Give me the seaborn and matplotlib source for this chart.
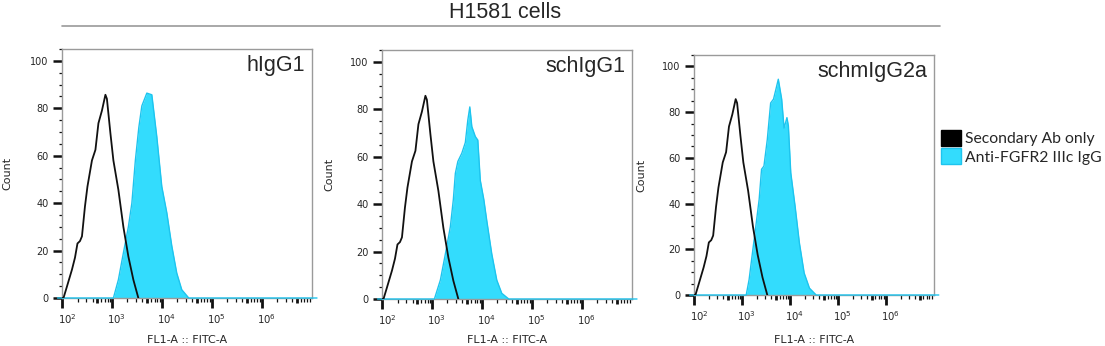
import numpy as np
import matplotlib
matplotlib.use("Agg")
import matplotlib.pyplot as plt
import matplotlib.transforms as mtransforms
from matplotlib.lines import Line2D
from matplotlib.patches import Patch
from matplotlib.ticker import FixedLocator, NullFormatter
import seaborn as sns

# ---------------- data (log10 FL1-A intensity, count) ----------------
title = "H1581 cells"
panel_names = ["hIgG1", "schIgG1", "schmIgG2a"]
legend_labels = ["Secondary Ab only", "Anti-FGFR2 IIIc IgG"]
decade_ticks = [2, 3, 4, 5, 6]

secondary_logx = [1.90, 2.02, 2.09, 2.19, 2.25, 2.30, 2.35, 2.39, 2.45, 2.50, 2.59, 2.66,
                  2.72, 2.79, 2.86, 2.89, 2.96, 3.02, 3.12, 3.22, 3.32, 3.42, 3.52]
secondary_count = [0, 0, 4.9, 12, 17, 23, 24, 26, 38.6, 47, 58, 62.5,
                   73.7, 79, 85.7, 84, 69.5, 58, 45.6, 30, 17.5, 7.7, 0]

hig_logx = [1.90, 3.02, 3.12, 3.22, 3.32, 3.39, 3.46, 3.53, 3.59, 3.69, 3.79, 3.89,
            3.99, 4.09, 4.19, 4.29, 4.39, 4.53, 7.10]
hig_count = [0, 0, 7.7, 19, 30, 40, 58, 72, 81, 86.4, 85.7, 68,
             47, 36, 22, 10.5, 3.5, 0, 0]

sch_logx = [1.90, 3.04, 3.16, 3.26, 3.36, 3.42, 3.46, 3.51, 3.59, 3.66, 3.71, 3.75,
            3.79, 3.86, 3.91, 3.96, 4.03, 4.09, 4.19, 4.29, 4.39, 4.53, 7.10]
sch_count = [0, 0, 8, 19, 30.5, 42, 53, 58, 61.5, 66, 75.5, 81,
             72.7, 68.5, 67, 50, 42, 33, 19, 8, 2.4, 0, 0]

schm_logx = [1.90, 3.08, 3.14, 3.21, 3.28, 3.35, 3.40, 3.45, 3.52, 3.59, 3.65, 3.70,
             3.75, 3.82, 3.87, 3.93, 3.96, 4.01, 4.10, 4.19, 4.29, 4.40, 4.54, 7.10]
schm_count = [0, 0, 6.7, 18.4, 30, 41.8, 55, 56.4, 68, 84, 85.7, 90,
              94.4, 85.7, 73, 77.6, 74, 53.5, 38.9, 22.8, 9.6, 3, 0, 0]

anti_series = [(hig_logx, hig_count), (sch_logx, sch_count), (schm_logx, schm_count)]

# ---------------- style ----------------
sns.set_style("ticks")
plt.rcParams["font.family"] = ["DejaVu Sans"]

BLACK = "#111111"
CYAN_FACE = "#33dcfd"
CYAN_EDGE = "#1ec4ee"
SPINE = "#9a9a9a"

W, H = 1105, 346
fig = plt.figure(figsize=(W / 100, H / 100), dpi=100)

# axes boxes in pixels: left, right, top, bottom(zero line)
boxes = [(62, 312, 49, 298), (382, 632, 50, 299), (694, 934, 55, 295)]
ylabel_gap = [50, 48, 48]
XMIN, XMAX = 10 ** 1.99, 10 ** 7.0

for i, ((l, r, t, b), name, (ax_x, ax_y)) in enumerate(zip(boxes, panel_names, anti_series)):
    ax = fig.add_axes([l / W, 1 - b / H, (r - l) / W, (b - t) / H])
    xs = 10 ** np.array(secondary_logx)
    ys = np.array(secondary_count)
    xa = 10 ** np.array(ax_x)
    ya = np.array(ax_y)
    ax.fill_between(xa, 0, ya, color=CYAN_FACE, lw=0, zorder=2)
    sns.lineplot(x=xa, y=ya, ax=ax, color=CYAN_EDGE, lw=1.0, zorder=3,
                 estimator=None, sort=False, clip_on=False)
    sns.lineplot(x=xs, y=ys, ax=ax, color=BLACK, lw=1.3, zorder=4,
                 estimator=None, sort=False)

    ax.set_xscale("log")
    ax.set_xlim(XMIN, XMAX)
    ax.set_ylim(0, 105)

    # x ticks
    ax.xaxis.set_major_locator(FixedLocator([10.0 ** d for d in decade_ticks]))
    ax.set_xticklabels([f"$10^{{{d}}}$" for d in decade_ticks])
    minor = [s * 10.0 ** d for d in range(1, 7) for s in [2, 3, 4, 6, 7, 8, 9]]
    ax.xaxis.set_minor_locator(FixedLocator(minor))
    ax.xaxis.set_minor_formatter(NullFormatter())
    ax.tick_params(axis="x", which="major", length=7, width=2.0, color=BLACK,
                   labelsize=7.3, pad=3, direction="out")
    ax.tick_params(axis="x", which="minor", length=3, width=0.9, color=BLACK, direction="out")
    offset = mtransforms.ScaledTranslation(4.5 / 100, 0, fig.dpi_scale_trans)
    for lab in ax.get_xticklabels():
        lab.set_transform(lab.get_transform() + offset)

    # medium ticks at 5 x 10^n
    trans = mtransforms.blended_transform_factory(ax.transData, ax.transAxes)
    for d in range(1, 7):
        x5 = 5 * 10.0 ** d
        if XMIN < x5 < XMAX:
            ax.add_line(Line2D([x5, x5], [0, -4.5 / (b - t)], transform=trans,
                               color=BLACK, lw=2.0, clip_on=False, solid_capstyle="butt"))

    # y ticks
    ax.yaxis.set_major_locator(FixedLocator([0, 20, 40, 60, 80, 100]))
    ax.yaxis.set_minor_locator(FixedLocator([v for v in range(0, 106, 5) if v % 20]))
    ax.tick_params(axis="y", which="major", length=6.5, width=1.8, color=BLACK,
                   labelsize=7, pad=3)
    ax.tick_params(axis="y", which="minor", length=2.5, width=0.9, color=BLACK)

    for sp in ax.spines.values():
        sp.set_color(SPINE)
        sp.set_linewidth(1.0)

    ax.set_xlabel("FL1-A :: FITC-A", fontsize=8)
    ax.set_ylabel("Count", fontsize=8)
    ax.xaxis.set_label_coords(0.5, -(335 - b) / (b - t))
    ax.yaxis.set_label_coords(-ylabel_gap[i] / (r - l), 0.5)

    ax.text(1 - 7 / (r - l), 1 - 6 / (b - t), name, transform=ax.transAxes,
            ha="right", va="top", fontsize=15.5, family="Liberation Sans")

# title and rule
fig.text(505 / W, 1 - 12 / H, title, ha="center", va="center", fontsize=15.5,
         family="Liberation Sans")
fig.add_artist(Line2D([62 / W, 940 / W], [1 - 26 / H, 1 - 26 / H], color="#9a9a9a", lw=1.2))

# legend
handles = [Patch(facecolor="black", edgecolor="black"),
           Patch(facecolor=CYAN_FACE, edgecolor=CYAN_EDGE)]
fig.legend(handles, legend_labels, loc="upper left",
           bbox_to_anchor=(941 / W, 1 - 130 / H), frameon=False,
           prop={"family": "Lato", "size": 11.3}, handlelength=1.25, handleheight=1.15,
           handletextpad=0.3, labelspacing=0.15, borderaxespad=0, borderpad=0)

fig.savefig("out.png", dpi=100)
